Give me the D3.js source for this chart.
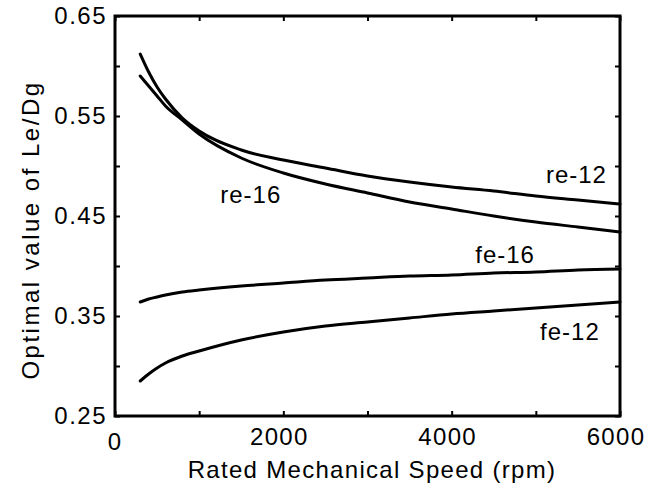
<!DOCTYPE html>
<html>
<head>
<meta charset="utf-8">
<script src="https://cdn.jsdelivr.net/npm/d3@7"></script>
<style>
  body { margin: 0; background: #fff; }
  svg text { font-family: "Liberation Sans", Arial, sans-serif; fill: #000; }
</style>
</head>
<body>
<svg id="chart" width="654" height="490"></svg>
<script>
var speeds = [300, 400, 500, 600, 800, 1000, 1500, 2000, 2500, 3000, 3500, 4000, 4500, 5000, 5500, 6000];
var re12 = [0.612, 0.594, 0.579, 0.567, 0.548, 0.535, 0.516, 0.506, 0.498, 0.490, 0.484, 0.479, 0.475, 0.470, 0.466, 0.462];
var re16 = [0.590, 0.580, 0.570, 0.560, 0.546, 0.532, 0.508, 0.493, 0.482, 0.473, 0.464, 0.457, 0.450, 0.444, 0.439, 0.434];
var fe16 = [0.364, 0.367, 0.369, 0.371, 0.374, 0.376, 0.380, 0.383, 0.386, 0.388, 0.390, 0.391, 0.393, 0.394, 0.396, 0.397];
var fe12 = [0.285, 0.292, 0.298, 0.303, 0.310, 0.315, 0.326, 0.334, 0.340, 0.344, 0.348, 0.352, 0.355, 0.358, 0.361, 0.364];
var xTicks = [0, 1000, 2000, 3000, 4000, 5000, 6000];
var xLabels = [0, 2000, 4000, 6000];
var yTicks = [0.25, 0.30, 0.35, 0.40, 0.45, 0.50, 0.55, 0.60, 0.65];
var yLabels = ["0.25", "0.35", "0.45", "0.55", "0.65"];
// curve names and where their labels sit (speed, value)
var seriesNames = ["re-12", "re-16", "fe-16", "fe-12"];
var labelAt = [[5120, 0.483], [1250, 0.463], [4280, 0.403], [5050, 0.326]];

var svg = d3.select('#chart');
var pLeft = 115, pRight = 620, pTop = 16, pBottom = 416;
var fs = 24;

var x = d3.scaleLinear().domain([0, 6000]).range([pLeft, pRight]);
var y = d3.scaleLinear().domain([0.25, 0.65]).range([pBottom, pTop]);

var series = [re12, re16, fe16, fe12];

//曲线
var line = d3.line()
  .x(function(d){ return x(d[0]); })
  .y(function(d){ return y(d[1]); })
  .curve(d3.curveMonotoneX);

svg.append('g')
  .selectAll('path')
    .data(series)
    .enter()
    .append('path')
      .attr('d', function(vals){ return line(speeds.map(function(s, i){ return [s, vals[i]]; })); })
      .attr('fill', 'none')
      .attr('stroke', '#000')
      .attr('stroke-width', 3)
      .attr('stroke-linecap', 'round');

//坐标轴 (ticks inward on all four sides)
var tick = 5;
svg.append('g').attr('transform', 'translate(0,' + pBottom + ')')
  .call(d3.axisTop(x).tickValues(xTicks).tickSize(tick).tickFormat(''));
svg.append('g').attr('transform', 'translate(0,' + pTop + ')')
  .call(d3.axisBottom(x).tickValues(xTicks).tickSize(tick).tickFormat(''));
svg.append('g').attr('transform', 'translate(' + pLeft + ',0)')
  .call(d3.axisRight(y).tickValues(yTicks).tickSize(tick).tickFormat(''));
svg.append('g').attr('transform', 'translate(' + pRight + ',0)')
  .call(d3.axisLeft(y).tickValues(yTicks).tickSize(tick).tickFormat(''));
svg.selectAll('.domain').remove();
svg.selectAll('.tick line').attr('stroke', '#000').attr('stroke-width', 2);

//边框
svg.append('rect')
  .attr('x', pLeft).attr('y', pTop)
  .attr('width', pRight - pLeft).attr('height', pBottom - pTop)
  .attr('fill', 'none').attr('stroke', '#000').attr('stroke-width', 3);

//刻度文字
svg.append('g')
  .selectAll('text')
    .data(yLabels)
    .enter()
    .append('text')
      .attr('x', pLeft - 8)
      .attr('y', function(d){ return y(+d); })
      .attr('dy', '0.35em')
      .attr('text-anchor', 'end')
      .style('font-size', fs + 'px')
      .style('letter-spacing', '1.5px')
      .text(function(d){ return d; });

svg.append('g')
  .selectAll('text')
    .data(xLabels)
    .enter()
    .append('text')
      .attr('x', function(d){ return x(d) - (d === 0 ? 0 : 4); })
      .attr('y', function(d){ return d === 0 ? pBottom + 34 : pBottom + 29; })
      .attr('text-anchor', 'middle')
      .style('font-size', fs + 'px')
      .style('letter-spacing', '1.3px')
      .text(function(d){ return d; });

//曲线标签
svg.append('g')
  .selectAll('text')
    .data(seriesNames)
    .enter()
    .append('text')
      .attr('x', function(d, i){ return x(labelAt[i][0]); })
      .attr('y', function(d, i){ return y(labelAt[i][1]); })
      .attr('text-anchor', 'start')
      .style('font-size', fs + 'px')
      .style('letter-spacing', '1px')
      .text(function(d){ return d; });

//轴标题
svg.append('text')
  .attr('x', 372)
  .attr('y', 478)
  .attr('text-anchor', 'middle')
  .style('font-size', fs + 'px')
  .style('letter-spacing', '1.3px')
  .text('Rated Mechanical Speed (rpm)');

svg.append('text')
  .attr('transform', 'translate(39,230) rotate(-90)')
  .attr('text-anchor', 'middle')
  .style('font-size', fs + 'px')
  .style('letter-spacing', '2.5px')
  .text('Optimal value of Le/Dg');
</script>
</body>
</html>
